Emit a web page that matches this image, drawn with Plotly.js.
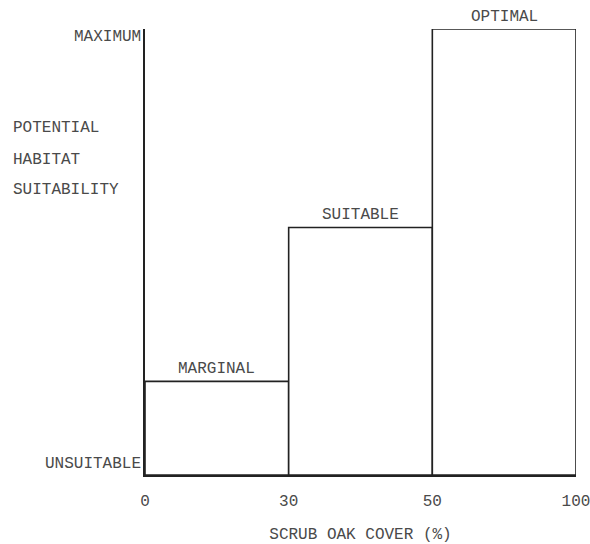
<!DOCTYPE html>
<html>
<head>
<meta charset="utf-8">
<script src="https://cdn.plot.ly/plotly-3.0.1.min.js"></script>
<style>html,body{margin:0;padding:0;background:#fff;}#chart{width:590px;height:544px;}</style>
</head>
<body>
<div id="chart"></div>
<script>
// Data
const coverTicks = ['0', '30', '50', '100'];
const classNames = ['MARGINAL', 'SUITABLE', 'OPTIMAL'];
const suitability = [0.21, 0.555, 1.0];   // 0 = unsuitable, 1 = maximum
const yEndLabels = ['UNSUITABLE', 'MAXIMUM'];
const yTitleLines = ['POTENTIAL', 'HABITAT', 'SUITABILITY'];
const xTitle = 'SCRUB OAK COVER (%)';

const FONT = 'Liberation Mono, Courier New, monospace';
const FS = 16;
const TXT = '#4a4a4a';
const LINE = '#222';

const xCenters = classNames.map((_, i) => i + 0.5);

const trace = {
  type: 'bar',
  x: xCenters,
  y: suitability,
  width: classNames.map(() => 1),
  marker: {color: '#ffffff', line: {color: LINE, width: 1.6}},
  cliponaxis: false,
  hoverinfo: 'skip'
};

const annotations = [];
classNames.forEach((name, i) => {
  annotations.push({
    x: xCenters[i], y: suitability[i], xref: 'x', yref: 'y',
    text: name, showarrow: false, yanchor: 'bottom', yshift: 1,
    font: {family: FONT, size: FS, color: TXT}
  });
});
annotations.push({
  x: 0, y: 0, xref: 'paper', yref: 'y', text: yEndLabels[0], showarrow: false,
  xanchor: 'right', yanchor: 'bottom', xshift: -2,
  font: {family: FONT, size: FS, color: TXT}
});
annotations.push({
  x: 0, y: 1, xref: 'paper', yref: 'y', text: yEndLabels[1], showarrow: false,
  xanchor: 'right', yanchor: 'top', xshift: -2, yshift: 3,
  font: {family: FONT, size: FS, color: TXT}
});
const titleYs = [0.777, 0.707, 0.638];
yTitleLines.forEach((t, i) => {
  annotations.push({
    x: -0.311, y: titleYs[i], xref: 'paper', yref: 'paper', text: t, showarrow: false,
    xanchor: 'left', yanchor: 'middle',
    font: {family: FONT, size: FS, color: TXT}
  });
});

const layout = {
  width: 590, height: 544,
  margin: {l: 145, r: 14, t: 29, b: 69},
  paper_bgcolor: '#fff', plot_bgcolor: '#fff',
  showlegend: false,
  xaxis: {
    range: [0, 3], tickvals: [0, 1, 2, 3], ticktext: coverTicks,
    showgrid: false, zeroline: false, showline: true, linecolor: LINE, linewidth: 1.6,
    ticks: '', ticklabelstandoff: 10, ticklabeloverflow: 'allow',
    tickfont: {family: FONT, size: FS, color: TXT},
    title: {text: xTitle, font: {family: FONT, size: FS, color: TXT}, standoff: 22},
    automargin: false, fixedrange: true
  },
  yaxis: {
    range: [0, 1], showticklabels: false, showgrid: false, zeroline: false,
    showline: true, linecolor: LINE, linewidth: 1.6, ticks: '', fixedrange: true
  },
  annotations: annotations
};

Plotly.newPlot('chart', [trace], layout, {displayModeBar: false, staticPlot: true});
</script>
</body>
</html>
